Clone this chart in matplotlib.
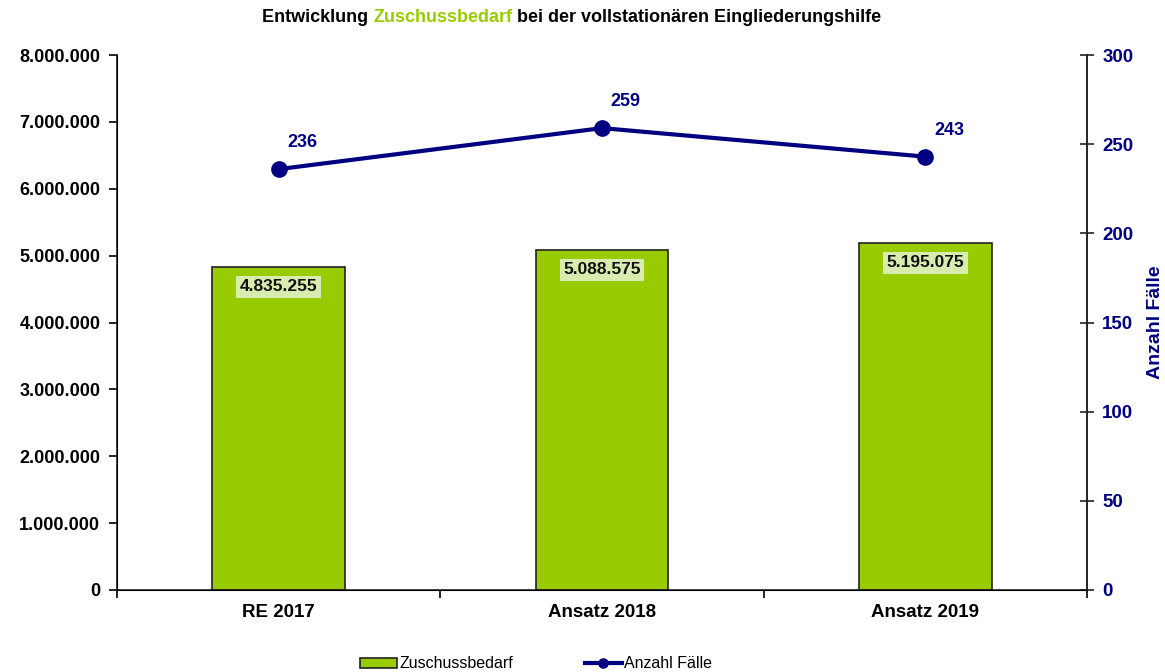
import matplotlib
matplotlib.use("Agg")
import matplotlib.pyplot as plt
from matplotlib.ticker import FuncFormatter, FixedLocator

plt.rcParams['font.family'] = ['Liberation Sans', 'DejaVu Sans']

categories = ["RE 2017", "Ansatz 2018", "Ansatz 2019"]
zuschuss = [4835255, 5088575, 5195075]
faelle = [236, 259, 243]
left_ticks = [0, 1000000, 2000000, 3000000, 4000000, 5000000, 6000000, 7000000, 8000000]
right_ticks = [0, 50, 100, 150, 200, 250, 300]

green = "#99CC00"
navy = "#000080"

fig = plt.figure(figsize=(11.65, 6.72), dpi=100)
ax = fig.add_axes([117/1165, 1-590/672, (1087-117)/1165, (590-55)/672])
x = list(range(len(categories)))

bars = ax.bar(x, zuschuss, width=0.41, color=green, edgecolor="#222222", linewidth=1.2,
              label="Zuschussbedarf", zorder=2)
ax.set_xlim(-0.5, 2.5)
ax.set_ylim(0, 8000000)
ax.yaxis.set_major_locator(FixedLocator(left_ticks))
ax.yaxis.set_major_formatter(FuncFormatter(lambda v, p: f"{int(v):,}".replace(",", ".")))
ax.set_xticks(x)
ax.set_xticklabels(categories, fontsize=13.5, fontweight="bold")
ax.tick_params(axis="x", length=0, pad=10)
ax.set_xticks([-0.5, 0.5, 1.5, 2.5], minor=True)
ax.tick_params(axis="x", which="minor", length=6, width=1.2, direction="out")
ax.tick_params(axis="y", labelsize=13, length=6, width=1.2, direction="out", pad=6)
for lbl in ax.get_yticklabels():
    lbl.set_fontweight("bold")
ax.spines["top"].set_visible(False)
for s in ["left", "bottom", "right"]:
    ax.spines[s].set_linewidth(1.2)
    ax.spines[s].set_color("#222222")

for xi, v in zip(x, zuschuss):
    ax.text(xi, v - 300000, f"{v:,}".replace(",", "."), ha="center", va="center",
            fontsize=12.5, fontweight="bold", color="#111111",
            bbox=dict(boxstyle="square,pad=0.2", facecolor="#d9ecb0", edgecolor="none"), zorder=3)

ax2 = ax.twinx()
ax2.set_ylim(0, 300)
ax2.yaxis.set_major_locator(FixedLocator(right_ticks))
ln, = ax2.plot(x, faelle, color=navy, linewidth=3, marker="o", markersize=11,
               label="Anzahl Fälle", zorder=4)
ax2.tick_params(axis="y", labelsize=13.5, length=10, width=1.2, direction="inout",
                color="#222222", labelcolor=navy, pad=6)
for lbl in ax2.get_yticklabels():
    lbl.set_fontweight("bold")
ax2.spines["top"].set_visible(False)
ax2.spines["right"].set_linewidth(1.2)
ax2.spines["right"].set_color("#222222")
ax2.set_ylabel("Anzahl Fälle", fontsize=14, fontweight="bold", color=navy, labelpad=10)
for xi, v in zip(x, faelle):
    ax2.annotate(str(v), (xi, v), xytext=(17, 19), textcoords="offset points",
                 ha="center", va="center", fontsize=13, fontweight="bold", color=navy)

ty = 1 - 18/672
t1 = fig.text(262/1165, ty, "Entwicklung ", ha="left", va="center", fontsize=13, fontweight="bold")
fig.canvas.draw()
r = fig.canvas.get_renderer()
bb = t1.get_window_extent(r)
t2 = fig.text(bb.x1/1165, ty, "Zuschussbedarf", ha="left", va="center", fontsize=13,
              fontweight="bold", color=green)
bb2 = t2.get_window_extent(r)
fig.text(bb2.x1/1165, ty, " bei der vollstationären Eingliederungshilfe", ha="left",
         va="center", fontsize=13, fontweight="bold")

fig.legend(handles=[bars, ln], labels=["Zuschussbedarf", "Anzahl Fälle"], loc="center",
           bbox_to_anchor=(536/1165, 1-664/672), ncol=2, frameon=False, fontsize=11.5,
           handlelength=2.3, handleheight=0.6, columnspacing=4.5, handletextpad=0.15,
           markerscale=0.6)

fig.savefig("out.png", dpi=100)
